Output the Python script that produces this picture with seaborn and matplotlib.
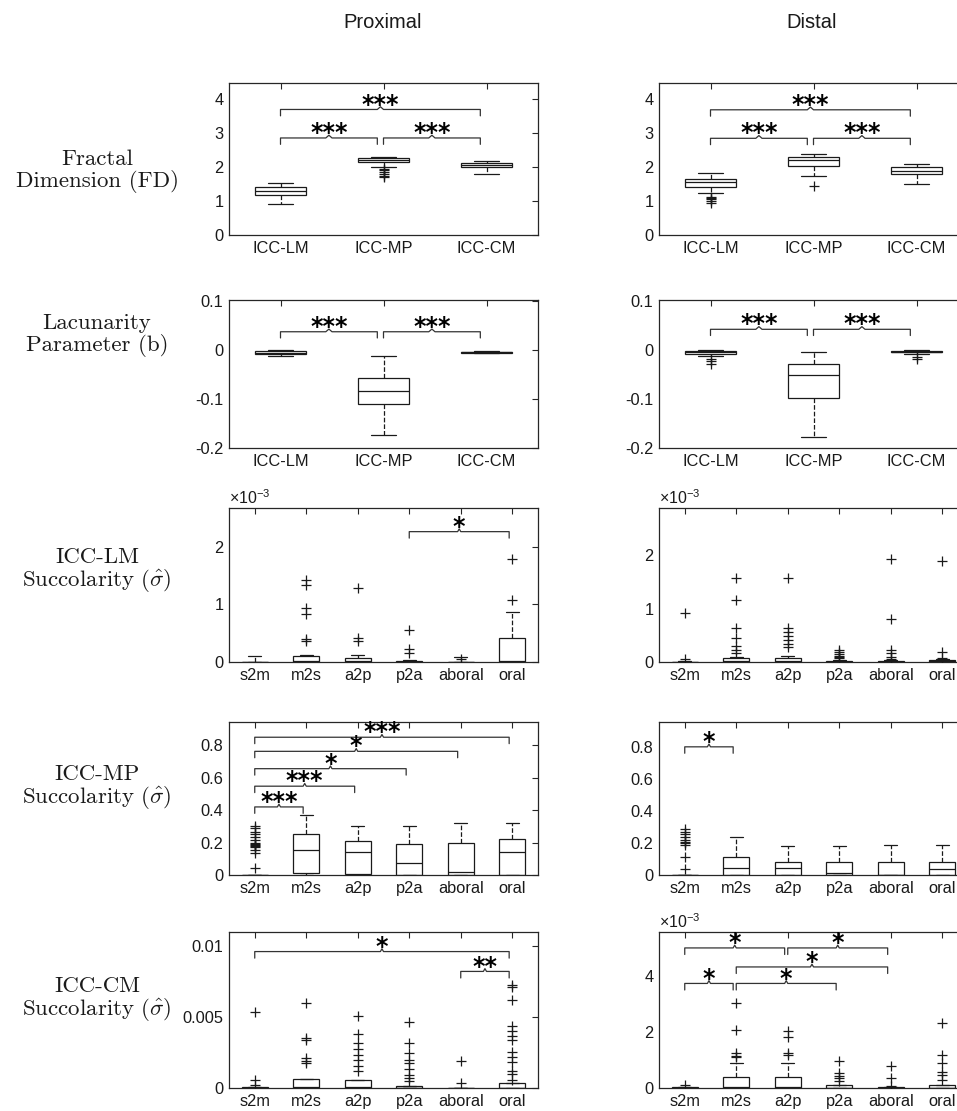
import numpy as np
import pandas as pd
import seaborn as sns
import matplotlib.pyplot as plt
from matplotlib.ticker import FuncFormatter

sns.set_theme(style="white")
plt.rcParams['font.family'] = ['Liberation Sans', 'DejaVu Sans']
plt.rcParams['axes.unicode_minus'] = False
plt.rcParams['mathtext.fontset'] = 'dejavusans'

cells = ['ICC-LM', 'ICC-MP', 'ICC-CM']
dirs = ['s2m', 'm2s', 'a2p', 'p2a', 'aboral', 'oral']

# each box: [low whisker, q1, median, q3, high whisker]
# fractal dimension
fd_prox = [[0.92, 1.18, 1.30, 1.41, 1.54],
           [2.00, 2.15, 2.21, 2.26, 2.30],
           [1.81, 1.99, 2.06, 2.13, 2.18]]
fd_prox_out = [[], [1.96, 1.91, 1.86, 1.80, 1.75, 1.70], []]
fd_dist = [[1.25, 1.42, 1.55, 1.64, 1.84],
           [1.75, 2.03, 2.21, 2.29, 2.38],
           [1.50, 1.79, 1.89, 2.00, 2.09]]
fd_dist_out = [[1.13, 1.09, 1.05, 1.00, 0.93], [1.44], []]

# lacunarity
lac_prox = [[-0.012, -0.008, -0.005, -0.002, 0.0],
            [-0.174, -0.110, -0.083, -0.057, -0.012],
            [-0.006, -0.005, -0.004, -0.003, -0.002]]
lac_prox_out = [[], [], []]
lac_dist = [[-0.012, -0.007, -0.004, -0.001, 0.0],
            [-0.177, -0.097, -0.050, -0.029, -0.003],
            [-0.008, -0.004, -0.003, -0.001, 0.001]]
lac_dist_out = [[-0.017, -0.022, -0.028], [], [-0.013, -0.017]]

# ICC-LM succolarity (x 10^-3)
lm_prox = [[0, 0, 0, 0, 0.10],
           [0, 0, 0.02, 0.10, 0.13],
           [0, 0, 0.02, 0.07, 0.13],
           [0, 0, 0, 0.015, 0.03],
           [0, 0, 0, 0, 0.09],
           [0, 0, 0.01, 0.41, 0.87]]
lm_prox_out = [[], [1.43, 1.34, 0.93, 0.84, 0.40, 0.37],
               [1.28, 0.42, 0.36], [0.55, 0.23, 0.15], [0.05], [1.78, 1.08]]
lm_dist = [[0, 0, 0, 0, 0.01],
           [0, 0, 0.01, 0.08, 0.10],
           [0, 0, 0.02, 0.08, 0.12],
           [0, 0, 0, 0.01, 0.03],
           [0, 0, 0, 0.02, 0.04],
           [0, 0, 0.01, 0.04, 0.05]]
lm_dist_out = [[0.91, 0.06],
               [1.58, 1.16, 0.64, 0.44, 0.29, 0.22, 0.17],
               [1.58, 0.64, 0.56, 0.49, 0.41, 0.33, 0.28],
               [0.22, 0.18, 0.15, 0.12, 0.10, 0.08],
               [1.92, 0.81, 0.22, 0.16, 0.10, 0.06],
               [1.88, 0.19, 0.07]]

# ICC-MP succolarity
mp_prox = [[0, 0, 0, 0, 0],
           [0.0, 0.015, 0.152, 0.25, 0.373],
           [0.0, 0.008, 0.14, 0.21, 0.30],
           [0.0, 0.0, 0.076, 0.193, 0.30],
           [0.0, 0.0, 0.018, 0.197, 0.318],
           [0.0, 0.0, 0.14, 0.224, 0.318]]
mp_prox_out = [[0.30, 0.287, 0.267, 0.252, 0.236, 0.215, 0.195, 0.19, 0.185,
                0.18, 0.174, 0.154, 0.133, 0.041], [], [], [], [], []]
mp_dist = [[0, 0, 0, 0, 0],
           [0, 0, 0.046, 0.112, 0.24],
           [0, 0, 0.046, 0.083, 0.182],
           [0, 0, 0.01, 0.079, 0.184],
           [0, 0, 0.0, 0.083, 0.186],
           [0, 0, 0.035, 0.083, 0.186]]
mp_dist_out = [[0.29, 0.27, 0.255, 0.24, 0.22, 0.205, 0.20, 0.19, 0.11, 0.035],
               [], [], [], [], []]

# ICC-CM succolarity (proximal raw, distal x 10^-3)
cm_prox = [[0, 0, 0, 0.0001, 0.0001],
           [0, 0, 0.00005, 0.00066, 0.00066],
           [0, 0, 0.00005, 0.00059, 0.00059],
           [0, 0, 0, 0.00012, 0.00012],
           [0, 0, 0, 0.00003, 0.00003],
           [0, 0, 0.00002, 0.00035, 0.00035]]
cm_prox_out = [[0.00533, 0.00054, 0.00023],
               [0.0060, 0.00352, 0.00336, 0.00211, 0.00190, 0.00176],
               [0.0051, 0.00383, 0.00317, 0.00275, 0.00235, 0.0020, 0.00153, 0.00117],
               [0.00462, 0.00317, 0.00246, 0.0020, 0.00176, 0.00134, 0.00094, 0.0007, 0.00047],
               [0.00188, 0.00035],
               [0.00728, 0.00711, 0.00622, 0.00434, 0.00399, 0.00369, 0.00337,
                0.00251, 0.00218, 0.00181, 0.00117, 0.001, 0.00059]]
cm_dist = [[0, 0, 0, 0.05, 0.05],
           [0, 0, 0.02, 0.39, 0.91],
           [0, 0, 0.02, 0.39, 0.91],
           [0, 0, 0.01, 0.12, 0.12],
           [0, 0, 0, 0.03, 0.03],
           [0, 0, 0.01, 0.12, 0.12]]
cm_dist_out = [[0.12], [3.05, 2.08, 1.25, 1.16, 1.10], [2.05, 1.84, 1.25, 1.19],
               [0.98, 0.53, 0.44, 0.36, 0.24], [0.80, 0.36, 0.06],
               [2.31, 1.19, 0.89, 0.59, 0.47, 0.30]]

# significance brackets: (from, to, height, stars)
fd_prox_sig = [(0, 1, 2.86, '***'), (1, 2, 2.86, '***'), (0, 2, 3.70, '***')]
fd_dist_sig = [(0, 1, 2.85, '***'), (1, 2, 2.85, '***'), (0, 2, 3.69, '***')]
lac_prox_sig = [(0, 1, 0.038, '***'), (1, 2, 0.038, '***')]
lac_dist_sig = [(0, 1, 0.043, '***'), (1, 2, 0.043, '***')]
lm_prox_sig = [(3, 5, 2.26, '*')]
lm_dist_sig = []
mp_prox_sig = [(0, 1, 0.42, '***'), (0, 2, 0.548, '***'), (0, 3, 0.656, '*'),
               (0, 4, 0.763, '*'), (0, 5, 0.85, '***')]
mp_dist_sig = [(0, 1, 0.80, '*')]
cm_prox_sig = [(0, 5, 0.00962, '*'), (4, 5, 0.00822, '**')]
cm_dist_sig = [(0, 2, 5.01, '*'), (2, 4, 5.01, '*'), (1, 4, 4.33, '*'),
               (0, 1, 3.74, '*'), (1, 3, 3.74, '*')]

row_labels = ['Fractal\nDimension (FD)', 'Lacunarity\nParameter (b)',
              'ICC-LM\nSuccolarity ($\\hat{\\sigma}$)',
              'ICC-MP\nSuccolarity ($\\hat{\\sigma}$)',
              'ICC-CM\nSuccolarity ($\\hat{\\sigma}$)']

W, H = 957, 1111
fig = plt.figure(figsize=(W / 100, H / 100), dpi=100)
col_left = [229, 659]
col_w = 309
rows_px = [(83, 235), (300, 448), (508, 662), (722, 875), (932, 1088)]
label_y = [171.5, 335.5, 571.5, 788.5, 1000]

edge = '#262626'


def panel(ax, cats, stats, out, sig, ylim, yticks, sci=False):
    df = pd.DataFrame([(c, v) for c, s in zip(cats, stats) for v in s],
                      columns=['cat', 'val'])
    sns.boxplot(data=df, x='cat', y='val', order=cats, whis=(0, 100),
                showfliers=False, width=0.5, color='white', saturation=1,
                linecolor='#1a1a1a', linewidth=0.9,
                whiskerprops={'linestyle': '--'}, ax=ax)
    fl = pd.DataFrame([(c, v) for c, o in zip(cats, out) for v in o],
                      columns=['cat', 'val'])
    if len(fl):
        sns.stripplot(data=fl, x='cat', y='val', order=cats, jitter=False,
                      marker='+', color='#1a1a1a', size=7, linewidth=0.9, ax=ax)
    ax.set_xlim(-0.5, len(cats) - 0.5)
    ax.set_ylim(*ylim)
    ax.set_yticks(yticks)
    ax.yaxis.set_major_formatter(FuncFormatter(lambda v, p: '%g' % round(v, 6)))
    ax.set_xlabel('')
    ax.set_ylabel('')
    for s in ax.spines.values():
        s.set_color(edge)
        s.set_linewidth(0.9)
    ax.tick_params(direction='in', length=4, width=0.8, color=edge,
                   top=True, right=True, labelsize=11.8, labelcolor='#1a1a1a',
                   pad=4)
    if sci:
        ax.text(0, 1.008, '\u00d710$^{\\mathregular{-3}}$', transform=ax.transAxes,
                ha='left', va='bottom', fontsize=11.5, color='#1a1a1a')
    span = ylim[1] - ylim[0]
    for i, j, y, lab in sig:
        x1, x2 = i, j - 0.06
        xc = (x1 + x2) / 2
        d = 0.042 * span
        n = 0.018 * span
        w = 0.03
        ax.plot([x1, x1, xc - w, xc, xc + w, x2, x2],
                [y - d, y, y, y + n, y, y, y - d], color='#333333', lw=0.9)
        ax.annotate(lab, (xc, y), xytext=(0, -1.5), textcoords='offset points',
                    ha='center', va='baseline', fontsize=17, fontweight='bold',
                    family='DejaVu Sans', color='black')


specs = [
    (cells, fd_prox, fd_prox_out, fd_prox_sig, (0, 4.48), [0, 1, 2, 3, 4], False,
     cells, fd_dist, fd_dist_out, fd_dist_sig, (0, 4.48), [0, 1, 2, 3, 4], False),
    (cells, lac_prox, lac_prox_out, lac_prox_sig, (-0.2, 0.103), [-0.2, -0.1, 0, 0.1], False,
     cells, lac_dist, lac_dist_out, lac_dist_sig, (-0.2, 0.103), [-0.2, -0.1, 0, 0.1], False),
    (dirs, lm_prox, lm_prox_out, lm_prox_sig, (0, 2.67), [0, 1, 2], True,
     dirs, lm_dist, lm_dist_out, lm_dist_sig, (0, 2.88), [0, 1, 2], True),
    (dirs, mp_prox, mp_prox_out, mp_prox_sig, (0, 0.944), [0, 0.2, 0.4, 0.6, 0.8], False,
     dirs, mp_dist, mp_dist_out, mp_dist_sig, (0, 0.955), [0, 0.2, 0.4, 0.6, 0.8], False),
    (dirs, cm_prox, cm_prox_out, cm_prox_sig, (0, 0.011), [0, 0.005, 0.01], False,
     dirs, cm_dist, cm_dist_out, cm_dist_sig, (0, 5.58), [0, 2, 4], True),
]

for r, (top, bot) in enumerate(rows_px):
    for c in range(2):
        ax = fig.add_axes([col_left[c] / W, 1 - bot / H, col_w / W, (bot - top) / H])
        panel(ax, *specs[r][7 * c:7 * c + 7])
    fig.text(97 / W, 1 - label_y[r] / H, row_labels[r], ha='center', va='center',
             fontsize=16.5, family='cmr10', math_fontfamily='cm', linespacing=1.05,
             color='#1a1a1a')

fig.text(383 / W, 1 - 23 / H, 'Proximal', ha='center', va='center', fontsize=14.5,
         color='#1a1a1a')
fig.text(812 / W, 1 - 23 / H, 'Distal', ha='center', va='center', fontsize=14.5,
         color='#1a1a1a')

fig.savefig('out.png', dpi=100, facecolor='white')
